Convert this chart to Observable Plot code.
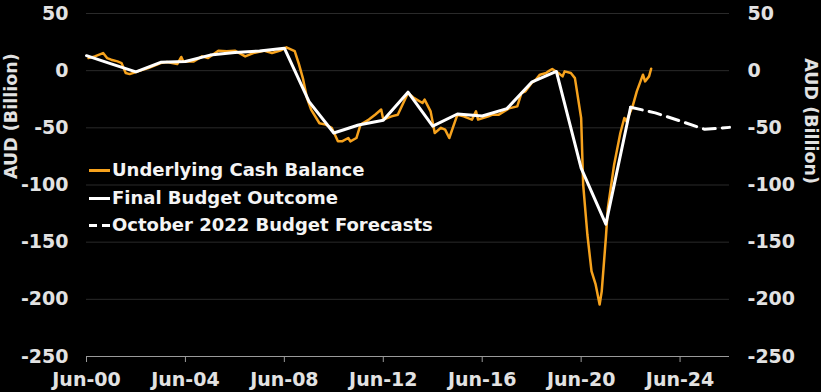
<!DOCTYPE html>
<html><head><meta charset="utf-8">
<script src="https://cdn.jsdelivr.net/npm/d3@7"></script>
<script src="https://cdn.jsdelivr.net/npm/@observablehq/plot@0.6"></script>
<style>
html,body{margin:0;padding:0;background:#000;}
#wrap{position:relative;width:821px;height:392px;overflow:hidden;background:#000;}
#wrap svg{position:absolute;left:0;top:0;}
.legend{position:absolute;left:89px;top:0;font-family:"DejaVu Sans";font-weight:bold;font-size:18px;color:#f4f4f4;}
.row{position:absolute;left:0;height:22px;line-height:22px;display:flex;align-items:center;white-space:nowrap;}
.sym{width:21px;height:3px;margin-right:2px;}
.dash{width:8px;height:3px;background:#fff;}
</style></head>
<body><div id="wrap"></div>
<script>
// Underlying Cash Balance (12-month rolling, AUD bn)
const ucbDates = ["2000-07","2000-10","2001-02","2001-04","2001-06","2001-09","2001-11","2002-01","2002-03","2002-06","2002-08","2002-12",
 "2003-06","2003-09","2004-02","2004-04","2004-05","2004-10","2005-02","2005-05","2005-10","2006-02","2006-06","2006-11",
 "2007-03","2007-08","2007-12","2008-04","2008-07","2008-11","2009-01","2009-03","2009-05","2009-07","2009-11","2010-02",
 "2010-05","2010-08","2010-10","2011-01","2011-02","2011-05","2011-07","2011-11","2012-02","2012-05","2012-06","2012-10",
 "2013-01","2013-06","2013-09","2014-01","2014-02","2014-05","2014-07","2014-10","2014-12","2015-02","2015-04","2015-06",
 "2015-09","2016-01","2016-03","2016-04","2016-09","2016-11","2017-02","2017-07","2017-11","2018-01","2018-03","2018-06",
 "2018-08","2018-10","2019-01","2019-02","2019-04","2019-07","2019-09","2019-10","2020-01","2020-03","2020-06","2020-07",
 "2020-09","2020-11","2021-01","2021-03","2021-04","2021-06","2021-07","2021-10","2022-01","2022-03","2022-04","2022-07",
 "2022-09","2022-12","2023-01","2023-03","2023-04"];
const ucbValues = [11,12.5,15.4,11,9.6,8.1,6.6,-2.1,-3,-1.2,0,2.3,
 6.6,7.5,5.8,12,8,8,12.5,11,17.5,16.9,17.5,12.5,
 15.4,17.5,15.4,17.5,20.4,17,6,-6.5,-24,-34,-46,-47.2,
 -50,-61.8,-61.8,-58.9,-61.8,-58.9,-47.2,-42.8,-38.5,-34,-42.8,-40,
 -38.5,-19.6,-24,-28.3,-25.3,-35.6,-54.5,-50,-51.6,-58.9,-48.7,-38.5,
 -40,-42.8,-35.6,-42.8,-40,-38.5,-38.5,-33,-31.2,-19.6,-18.1,-10.8,
 -7.9,-3.5,-2.1,-0.6,1.5,-2.1,-5,-0.6,-2.1,-6.5,-41.4,-99.6,
 -143.3,-175.4,-187,-204.5,-193,-146.3,-120,-82.2,-54.5,-41.4,-44.3,-31.2,
 -18.1,-3.5,-9.4,-5,1.7];

// Final Budget Outcome (financial year ending June)
const fboDates = ["2000-06","2001-06","2002-06","2003-06","2004-06","2005-06","2006-06","2007-06","2008-06","2009-06","2010-06","2011-06",
 "2012-06","2013-06","2014-06","2015-06","2016-06","2017-06","2018-06","2019-06","2020-06","2021-06","2022-06"];
const fboValues = [13.1,5.9,-1.0,7.3,8.0,13.6,15.8,17.2,19.7,-27.1,-54.5,-47.5,
 -43.4,-18.8,-48.5,-37.9,-39.6,-33.2,-10.1,-0.7,-85.3,-134.2,-32.0];

// October 2022 Budget Forecasts
const fcDates = ["2022-06","2023-06","2024-06","2025-06","2026-06"];
const fcValues = [-32.0,-36.9,-44.0,-51.3,-49.6];

const yTicks = [50,0,-50,-100,-150,-200,-250];
const xTickDates = ["2000-06","2004-06","2008-06","2012-06","2016-06","2020-06","2024-06"];
const xDomain = ["2000-06","2026-06"];
const axisTitle = "AUD (Billion)";
const legendLabels = ["Underlying Cash Balance","Final Budget Outcome","October 2022 Budget Forecasts"];

const parse = d3.utcParse("%Y-%m");
const ucb = ucbDates.map((d,i)=>({date: parse(d), value: ucbValues[i]}));
const fbo = fboDates.map((d,i)=>({date: parse(d), value: fboValues[i]}));
const fc = fcDates.map((d,i)=>({date: parse(d), value: fcValues[i]}));

const orange = "#f6a21d";
const chart = Plot.plot({
  width: 821, height: 392,
  marginLeft: 86, marginRight: 92, marginTop: 13, marginBottom: 36,
  style: {background: "#000", color: "#e2e2e2", fontFamily: "DejaVu Sans", fontSize: "19px", fontWeight: "bold", overflow: "visible"},
  x: {type: "utc", domain: xDomain.map(parse)},
  y: {domain: [-250, 50]},
  marks: [
    Plot.ruleY(yTicks.filter(v => v > -250), {stroke: "#2a2a2a", strokeWidth: 1}),
    Plot.ruleY([-250], {stroke: "#9a9a9a", strokeWidth: 1}),
    Plot.axisY({ticks: yTicks, anchor: "left", tickSize: 0, tickPadding: 18, label: null, tickFormat: d => String(d)}),
    Plot.axisY({ticks: yTicks, anchor: "right", tickSize: 0, tickPadding: 18, label: null, tickFormat: d => String(d)}),
    Plot.axisX({ticks: xTickDates.map(parse), tickSize: 6, tickPadding: 10, stroke: "#9a9a9a", label: null,
      tickFormat: d => "Jun-" + d3.utcFormat("%y")(d)}),
    Plot.line(ucb, {x: "date", y: "value", stroke: orange, strokeWidth: 2.5}),
    Plot.line(fbo, {x: "date", y: "value", stroke: "#fff", strokeWidth: 3}),
    Plot.line(fc, {x: "date", y: "value", stroke: "#fff", strokeWidth: 3, strokeDasharray: "12,7"}),
    Plot.text([axisTitle], {frameAnchor: "left", text: d => d, rotate: -90, dx: -75, dy: -6, fontSize: 17.5, fontWeight: "bold", fill: "#e2e2e2", letterSpacing: "1.2px"}),
    Plot.text([axisTitle], {frameAnchor: "right", text: d => d, rotate: 90, dx: 81, dy: -1, fontSize: 17.5, fontWeight: "bold", fill: "#e2e2e2", letterSpacing: "1.2px"})
  ]
});
const wrap = document.getElementById("wrap");
wrap.appendChild(chart);

// legend
const legend = document.createElement("div");
legend.className = "legend";
const rowsTop = [159, 187, 214];
legendLabels.forEach((lab, i) => {
  const row = document.createElement("div");
  row.className = "row";
  row.style.top = rowsTop[i] + "px";
  const sym = document.createElement("div");
  sym.className = "sym";
  if (i < 2) {
    sym.style.background = i === 0 ? orange : "#fff";
  } else {
    sym.style.display = "flex";
    sym.style.justifyContent = "space-between";
    sym.innerHTML = '<div class="dash"></div><div class="dash"></div>';
  }
  row.appendChild(sym);
  const t = document.createElement("span");
  t.textContent = lab;
  row.appendChild(t);
  legend.appendChild(row);
});
wrap.appendChild(legend);
</script>
</body></html>
